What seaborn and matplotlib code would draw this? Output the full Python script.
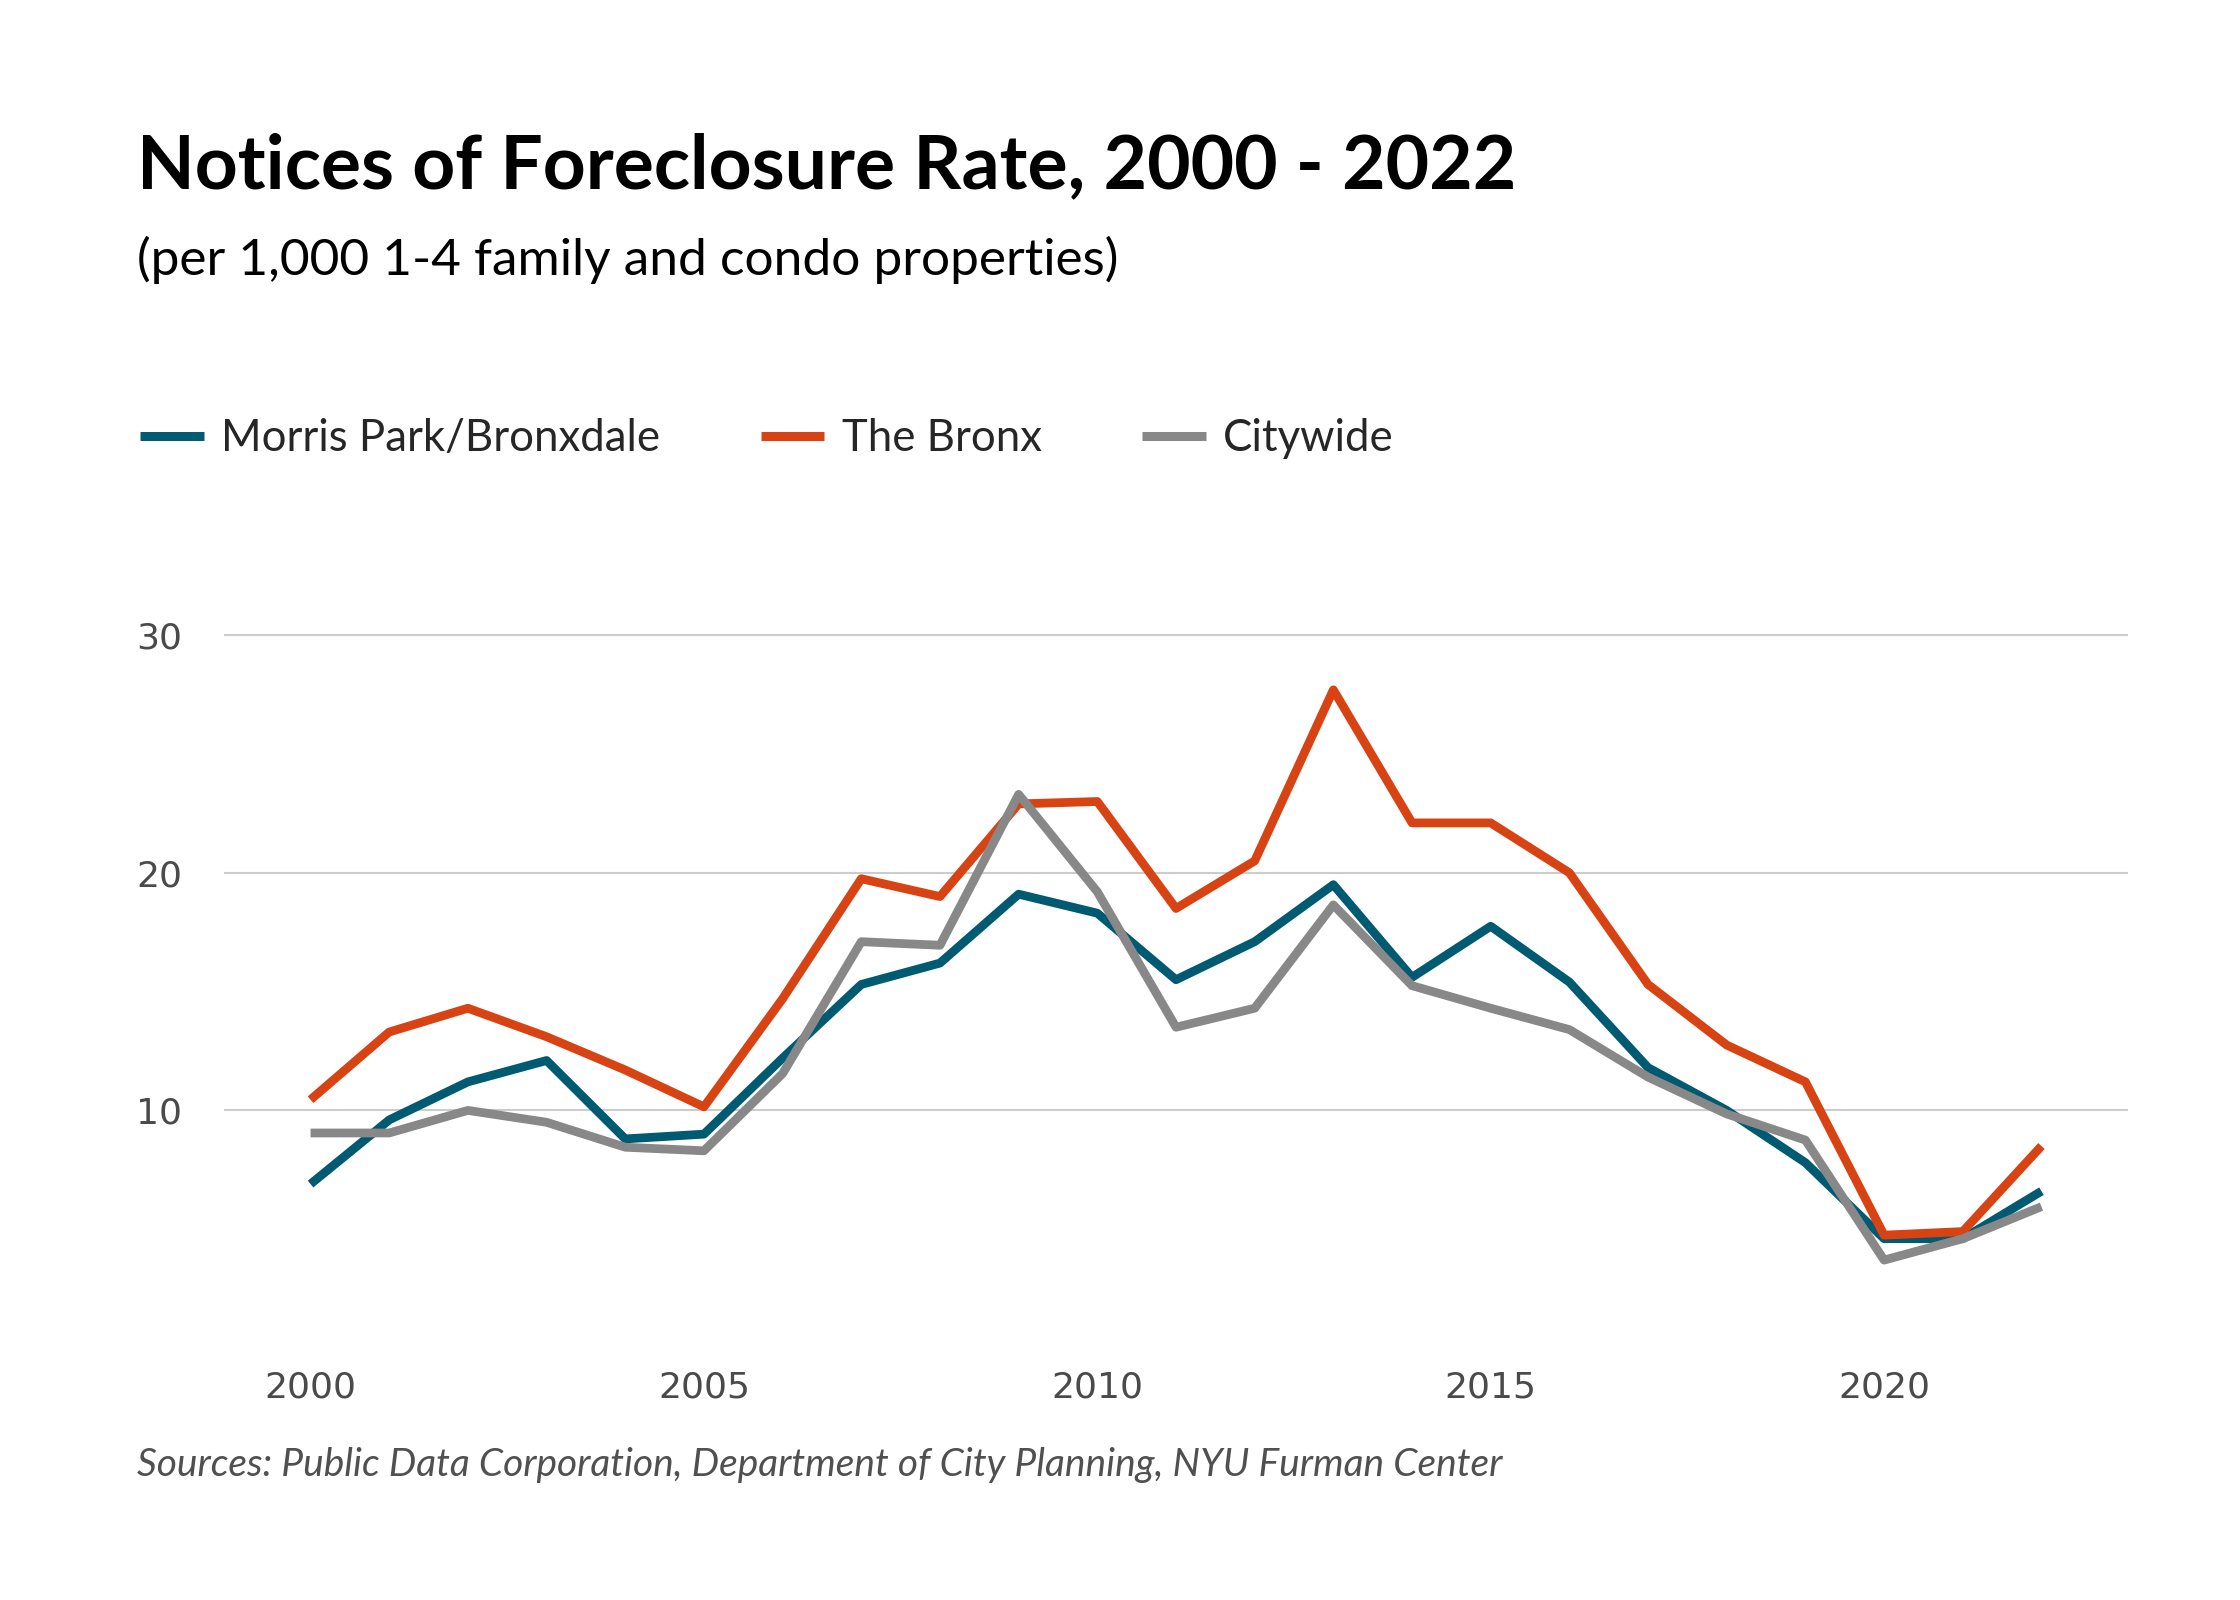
import numpy as np
import pandas as pd
import seaborn as sns
import matplotlib.pyplot as plt

# 데이터
years = list(range(2000, 2023))
morris_park = [6.9, 9.6, 11.2, 12.1, 8.8, 9.0, 12.2, 15.3, 16.2, 19.1, 18.3, 15.5,
               17.1, 19.5, 15.6, 17.75, 15.4, 11.8, 10.0, 7.8, 4.6, 4.6, 6.6]
bronx = [10.45, 13.3, 14.3, 13.1, 11.7, 10.15, 14.7, 19.75, 19.0, 22.9, 23.0, 18.5,
         20.5, 27.7, 22.1, 22.1, 20.0, 15.3, 12.75, 11.2, 4.75, 4.9, 8.5]
citywide = [9.05, 9.05, 10.0, 9.5, 8.45, 8.3, 11.55, 17.1, 16.95, 23.3, 19.2, 13.5,
            14.3, 18.65, 15.25, 14.3, 13.4, 11.4, 9.85, 8.75, 3.7, 4.6, 5.95]
series_names = ["Morris Park/Bronxdale", "The Bronx", "Citywide"]
colors = ["#005a72", "#d84314", "#888888"]
y_ticks = [10, 20, 30]
x_ticks = [2000, 2005, 2010, 2015, 2020]

df = pd.DataFrame({
    "year": years * 3,
    "rate": morris_park + bronx + citywide,
    "area": [series_names[0]] * len(years) + [series_names[1]] * len(years) + [series_names[2]] * len(years),
})

sns.set_theme(style="white")
plt.rcParams["font.family"] = ["Lato", "DejaVu Sans"]

fig = plt.figure(figsize=(22.4, 16), dpi=100)
ax = fig.add_axes([0.100, 0.1575, 0.850, 0.4455 * 30.3 / 30])

sns.lineplot(data=df, x="year", y="rate", hue="area", palette=colors,
             hue_order=series_names, linewidth=6.3, ax=ax, legend=False)
for ln in ax.get_lines():
    ln.set_solid_capstyle("butt")

ax.set_xlim(1998.9, 2023.1)
ax.set_ylim(0, 30.3)
ax.set_yticks(y_ticks)
ax.set_xticks(x_ticks)
ax.grid(axis="y", color="#cccccc", linewidth=1.5)
ax.grid(axis="x", visible=False)
for s in ax.spines.values():
    s.set_visible(False)
ax.tick_params(axis="y", length=0, pad=30, labelsize=26, labelcolor="#4a4a4a")
ax.tick_params(axis="x", length=0, pad=16, labelsize=26, labelcolor="#4a4a4a")
for lab in ax.get_xticklabels() + ax.get_yticklabels():
    lab.set_family("DejaVu Sans")
ax.set_xlabel("")
ax.set_ylabel("")

# 제목 / 부제목
fig.text(0.061, 0.896, "Notices of Foreclosure Rate, 2000 - 2022", fontsize=54,
         fontweight="bold", color="black", va="center", ha="left")
fig.text(0.061, 0.8375, "(per 1,000 1-4 family and condo properties)", fontsize=37,
         color="black", va="center", ha="left")

# 범례
handles = [plt.Line2D([], [], color=c, linewidth=6.5, solid_capstyle="butt") for c in colors]
fig.legend(handles, series_names, loc="center left", bbox_to_anchor=(0.045, 0.726),
           ncol=3, frameon=False, fontsize=31.5, handlelength=1.45, handletextpad=0.4,
           columnspacing=2.3)

# 출처
fig.text(0.061, 0.0844, "Sources: Public Data Corporation, Department of City Planning, NYU Furman Center",
         fontsize=28, style="italic", color="#505050", va="center", ha="left")

fig.savefig("out.png", dpi=100, facecolor="white")
